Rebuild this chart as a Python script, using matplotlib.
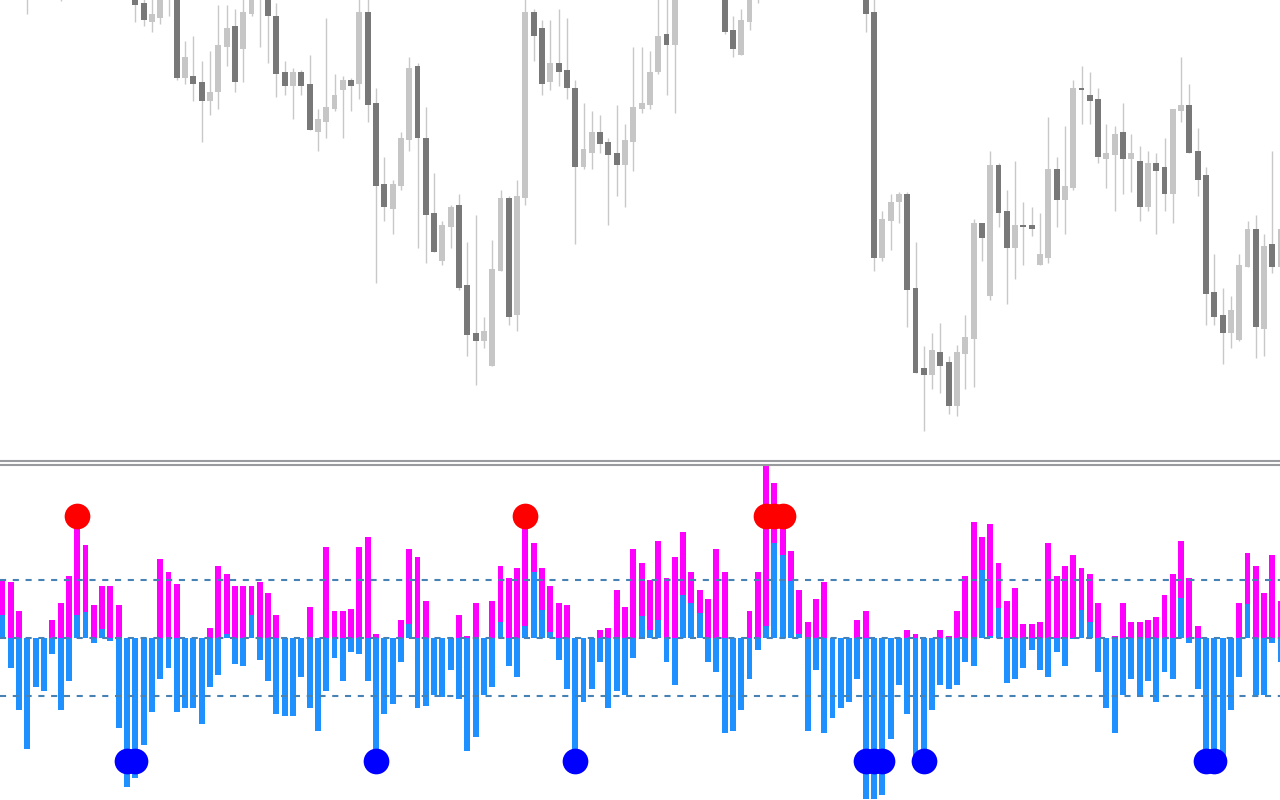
import matplotlib
matplotlib.use("Agg")
import matplotlib.pyplot as plt
from matplotlib.lines import Line2D

# ---------------- candle data (price units, arbitrary) ----------------
opens = [480, 505, 485, 500, 470, 492, 478, 490, 468, 484, 502, 515, 497, 506, 490, 476,
         482, 457, 438, 442, 465, 478, 382, 384, 378, 359, 368, 413, 434, 411, 446, 482,
         472, 444, 388, 374, 388, 376, 328, 338, 351, 370, 380, 376, 448, 357, 276, 251,
         274, 320, 394, 322, 247, 199, 233, 255, 175, 127, 119, 94, 189, 262, 145, 262,
         448, 432, 378, 397, 390, 372, 293, 307, 328, 318, 307, 295, 318, 351, 355, 388,
         426, 415, 470, 492, 476, 498, 512, 488, 430, 405, 438, 470, 490, 532, 566, 580,
         592, 580, 565, 575, 552, 536, 520, 505, 512, 448, 202, 239, 258, 266, 172, 92,
         85, 108, 98, 54, 106, 121, 237, 164, 295, 249, 212, 235, 235, 195, 202, 291,
         260, 272, 372, 365, 361, 301, 305, 328, 301, 299, 253, 297, 293, 266, 349, 355,
         309, 285, 168, 145, 127, 120, 193, 231, 131, 216, 193]
highs = [520, 512, 515, 506, 500, 503, 498, 496, 490, 510, 522, 520, 512, 510, 494, 490,
         488, 462, 462, 470, 485, 485, 419, 424, 399, 409, 455, 455, 451, 465, 478, 488,
         478, 457, 399, 392, 390, 405, 351, 442, 386, 384, 382, 465, 462, 372, 303, 280,
         328, 403, 397, 353, 287, 239, 255, 266, 218, 245, 143, 220, 270, 264, 280, 466,
         451, 440, 440, 451, 442, 380, 357, 349, 345, 322, 355, 336, 413, 413, 409, 462,
         465, 478, 500, 498, 505, 520, 518, 495, 444, 451, 476, 500, 540, 575, 590, 600,
         598, 585, 582, 580, 556, 542, 526, 520, 518, 466, 249, 266, 268, 268, 218, 114,
         127, 137, 104, 115, 145, 241, 237, 309, 297, 270, 299, 258, 253, 247, 343, 303,
         334, 380, 394, 388, 372, 336, 334, 357, 326, 314, 309, 307, 322, 351, 403, 376,
         332, 293, 206, 172, 164, 206, 239, 245, 226, 309, 240]
lows = [470, 478, 472, 446, 462, 472, 468, 459, 463, 478, 495, 490, 488, 485, 470, 468,
        438, 434, 428, 436, 444, 380, 376, 359, 318, 345, 351, 394, 368, 378, 444, 413,
        397, 363, 365, 341, 365, 330, 309, 322, 349, 322, 349, 361, 338, 177, 239, 226,
        270, 309, 212, 197, 208, 195, 212, 170, 104, 75, 112, 94, 189, 135, 129, 255,
        399, 365, 370, 374, 361, 216, 291, 291, 307, 235, 264, 253, 289, 347, 351, 386,
        365, 347, 462, 470, 468, 485, 480, 426, 403, 405, 430, 457, 485, 525, 555, 570,
        575, 560, 558, 548, 530, 515, 500, 498, 428, 189, 199, 210, 237, 133, 87, 29,
        71, 67, 46, 44, 71, 73, 199, 160, 233, 156, 181, 195, 224, 195, 197, 233,
        226, 270, 336, 336, 297, 272, 249, 266, 268, 239, 249, 226, 249, 237, 338, 307,
        264, 135, 135, 96, 112, 119, 193, 102, 104, 187, 185]
closes = [505, 485, 500, 470, 492, 478, 490, 468, 484, 502, 515, 497, 506, 490, 476, 482,
          455, 440, 446, 465, 480, 382, 403, 376, 359, 368, 415, 432, 378, 448, 470, 466,
          444, 386, 374, 388, 374, 330, 341, 353, 365, 380, 374, 448, 355, 274, 253, 276,
          322, 392, 322, 245, 208, 235, 253, 172, 125, 119, 129, 191, 262, 143, 264, 448,
          424, 376, 397, 388, 372, 293, 311, 328, 316, 305, 295, 320, 353, 357, 388, 424,
          415, 470, 492, 476, 498, 512, 488, 428, 411, 440, 470, 490, 532, 566, 580, 592,
          580, 565, 575, 552, 536, 520, 505, 512, 446, 202, 241, 258, 266, 170, 87, 85,
          110, 94, 54, 108, 123, 237, 222, 295, 247, 212, 235, 233, 231, 206, 291, 260,
          274, 372, 370, 359, 303, 307, 326, 301, 307, 253, 297, 289, 266, 351, 355, 307,
          280, 166, 143, 127, 150, 195, 231, 133, 214, 193, 231]

# ---------------- oscillator data ----------------
magenta_vals = [58, 56, 27, 0, 0, 0, 18, 35, 62, 120, 93, 33, 52, 52, 33, 0,
                0, 0, 0, 79, 66, 54, 0, 0, 0, 10, 72, 64, 52, 52, 52, 56,
                45, 23, 0, 0, 0, 31, 0, 91, 27, 27, 29, 91, 101, 4, 0, 0,
                18, 89, 81, 37, 0, 0, 0, 23, 2, 35, 0, 37, 72, 60, 70, 120,
                95, 70, 52, 35, 33, 0, 0, 0, 8, 10, 48, 31, 89, 75, 58, 97,
                60, 81, 106, 66, 48, 39, 89, 66, 0, 0, 27, 66, 172, 155, 125, 87,
                48, 16, 39, 56, 0, 0, 0, 18, 27, 0, 0, 0, 0, 8, 4, 0,
                0, 8, 2, 27, 62, 116, 101, 114, 75, 37, 50, 14, 14, 16, 95, 62,
                72, 83, 70, 64, 35, 0, 2, 35, 16, 16, 18, 21, 43, 64, 97, 60,
                12, 0, 0, 0, 0, 35, 85, 72, 45, 83, 37]
blue_vals = [23, -30, -72, -111, -49, -53, -16, -72, -43, 23, 26, -5, 9, -3, -90, -149,
             -140, -107, -74, -41, -30, -74, -70, -70, -86, -49, -37, 4, -26, -28, 23, -22,
             -43, -76, -78, -78, -39, -70, -93, -53, -20, -43, -14, -16, -43, -125, -76, -66,
             -24, 14, -70, -68, -57, -59, -32, -61, -113, -99, -57, -49, 16, -28, -39, 12,
             66, 28, 6, -22, -51, -136, -64, -51, -24, -70, -53, -57, -20, 22, 8, 18,
             -24, -47, 43, 35, 25, -24, -34, -95, -93, -72, -41, -12, 12, 95, 83, 57,
             4, -93, -32, -95, -80, -70, -64, -41, -161, -161, -157, -101, -47, -76, -120, -125,
             -72, -47, -51, -47, -24, -28, 68, 2, 30, -45, -41, -30, -12, -32, -39, -14,
             -28, -1, 28, 16, -34, -70, -95, -57, -41, -59, -43, -64, -34, -41, 40, -5,
             -51, -130, -128, -118, -72, -39, 34, -57, -57, -5, -24]
red_dot_bars = [9, 63, 92, 93, 94]
blue_dot_bars = [15, 16, 45, 69, 104, 105, 106, 111, 145, 146]
levels = [58, 0, -58]
dot_level = 122.5

# ---------------- figure ----------------
plt.rcParams['lines.scale_dashes'] = False
W, H = 1280, 800
fig = plt.figure(figsize=(12.8, 8.0), dpi=100)
fig.patch.set_facecolor('white')

n = len(opens)
xs = list(range(n))
xlim = (-2.5 / 8.3, (1280 - 2.5) / 8.3)

# top price panel: pixel rows 0..460
ax1 = fig.add_axes([0, 340 / H, 1, 460 / H])
ax1.set_xlim(*xlim)
ax1.set_ylim(0, 460)
ax1.axis('off')

wick_col = '#c8c8c8'
up_col = '#c6c6c6'
dn_col = '#787878'
ax1.vlines(xs, lows, highs, colors=wick_col, linewidth=1.0, zorder=1)
body_bottom = [min(o, c) for o, c in zip(opens, closes)]
body_height = [max(abs(c - o), 1.5) for o, c in zip(opens, closes)]
body_col = [up_col if c >= o else dn_col for o, c in zip(opens, closes)]
ax1.bar(xs, body_height, bottom=body_bottom, width=0.72, color=body_col,
        linewidth=0, zorder=2)

# separator double line
fig.add_artist(Line2D([0, 1], [1 - 461 / H, 1 - 461 / H], color='#999a9e',
                      linewidth=1.5, transform=fig.transFigure))
fig.add_artist(Line2D([0, 1], [1 - 465 / H, 1 - 465 / H], color='#999a9e',
                      linewidth=1.5, transform=fig.transFigure))

# bottom oscillator panel: pixel rows 466..800, zero at row 638.3
zero_row = 638.3
top_row = 466
ax2 = fig.add_axes([0, 0, 1, (H - top_row) / H])
ax2.set_xlim(*xlim)
ax2.set_ylim(-(H - zero_row), zero_row - top_row)
ax2.axis('off')

ax2.bar(xs, magenta_vals, width=0.7, color='#ff00ff', linewidth=0, zorder=2)
ax2.bar(xs, blue_vals, width=0.7, color='#1e90ff', linewidth=0, zorder=3)
for lv in levels:
    ax2.axhline(lv, color='#4682b4', linewidth=1.5, dashes=(4.4, 4.8), zorder=4)

ax2.plot(red_dot_bars, [dot_level] * len(red_dot_bars), 'o', color='#ff0000',
         markersize=18.5, markeredgewidth=0, zorder=5, clip_on=False)
ax2.plot(blue_dot_bars, [-dot_level] * len(blue_dot_bars), 'o', color='#0000ff',
         markersize=18.5, markeredgewidth=0, zorder=5, clip_on=False)

fig.savefig('out.png', dpi=100, facecolor='white')
